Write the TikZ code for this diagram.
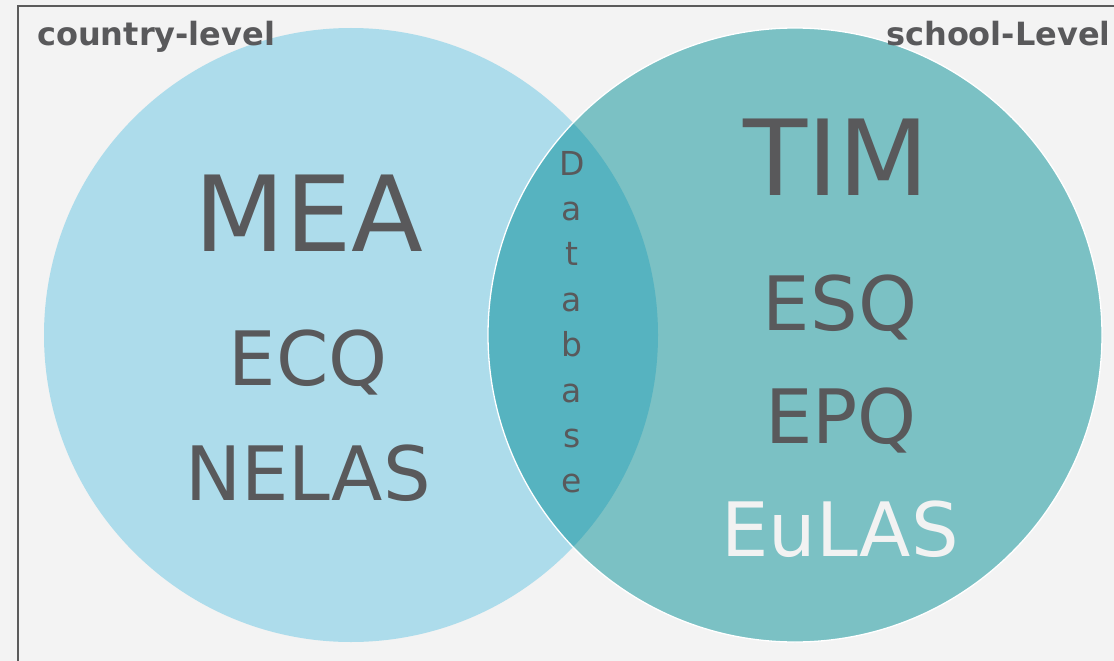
\documentclass[tikz,border=0pt]{standalone}
\usepackage{fontspec}
\setmainfont{DejaVu Sans}
\definecolor{bgc}{HTML}{F3F3F3}
\definecolor{framec}{HTML}{5B5B5B}
\definecolor{leftc}{HTML}{ADDCEB}
\definecolor{rightc}{HTML}{7BC1C4}
\definecolor{lensc}{HTML}{56B3C0}
\definecolor{txtc}{HTML}{59595B}
\definecolor{lighttxt}{HTML}{F2F2F2}
\tikzset{
  bigtxt/.style={text=txtc, inner sep=0pt, anchor=base, font=\fontsize{105}{110}\selectfont},
  midtxt/.style={text=txtc, inner sep=0pt, anchor=base, font=\fontsize{75}{80}\selectfont},
  lenstxt/.style={text=txtc, inner sep=0pt, anchor=base, font=\fontsize{33}{35}\selectfont},
  headtxt/.style={text=txtc, inner sep=0pt, anchor=base west, font=\bfseries\fontsize{32}{34}\selectfont},
}
\begin{document}
\begin{tikzpicture}[x=1pt,y=-1pt]
\useasboundingbox (0,0) rectangle (1114,661);
\fill[bgc] (0,0) rectangle (1114,661);
% frame
\draw[framec, line width=2pt] (18,680) -- (18,6) -- (1130,6);
% circles
\coordinate (cl) at (351,335);
\coordinate (cr) at (795,335);
\fill[leftc] (cl) circle[radius=307pt];
\fill[rightc] (cr) circle[radius=307pt];
\begin{scope}
  \clip (cl) circle[radius=307pt];
  \fill[lensc] (cr) circle[radius=307pt];
\end{scope}
\draw[white, line width=1.3pt] (cr) circle[radius=307pt];
% headings
\begin{scope}
  \clip (0,0) rectangle (1106,661);
  \node[headtxt] (country) at (37,46) {country-level};
  \node[headtxt] (school) at (886,46) {school-Level};
\end{scope}
% left texts
\node[bigtxt] (mea) at (309,251) {MEA};
\node[midtxt] (ecq) at (308,385) {ECQ};
\node[midtxt] (nelas) at (308,500) {NELAS};
% right texts
\node[bigtxt] (tim) at (836,195) {TIM};
\node[midtxt] (esq) at (840,330) {ESQ};
\node[midtxt] (epq) at (841,443) {EPQ};
\node[midtxt, text=lighttxt] (eulas) at (840,556) {EuLAS};
% Database vertical
\foreach \ch [count=\i from 0] in {D,a,t,a,b,a,s,e}{
  \node[lenstxt] (db\i) at (572,{175+45.4*\i}) {\ch};
}
\end{tikzpicture}
\end{document}
